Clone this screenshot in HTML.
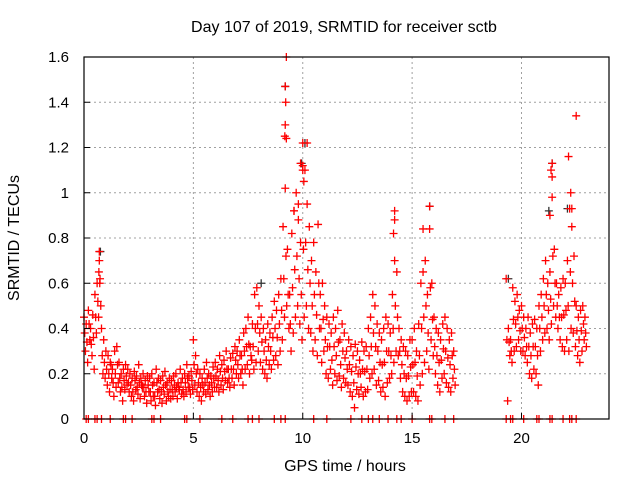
<!DOCTYPE html>
<html><head><meta charset="utf-8"><style>
html,body{margin:0;padding:0;background:#fff;}
svg{display:block;font-family:"Liberation Sans",sans-serif;}
</style></head><body>
<svg id="chart" width="640" height="480" viewBox="0 0 640 480" xmlns="http://www.w3.org/2000/svg">
<rect width="640" height="480" fill="#fff"/>
<text x="344" y="32" font-size="16" text-anchor="middle" fill="#000">Day 107 of 2019, SRMTID for receiver sctb</text>
<text transform="translate(19,238) rotate(-90)" font-size="16" text-anchor="middle" fill="#000">SRMTID / TECUs</text>
<text x="345" y="471" font-size="16" text-anchor="middle" fill="#000">GPS time / hours</text>
<g id="grid"></g><g id="marks"></g><g id="axes"></g>
</svg>
<script>
const hours=[0.0,0.1,0.2,0.3,0.4,0.5,0.6,0.7,0.8,0.9,1.0,1.1,1.2,1.3,1.4,1.5,1.6,1.7,1.8,1.9,2.0,2.1,2.2,2.3,2.4,2.5,2.6,2.7,2.8,2.9,3.0,3.1,3.2,3.3,3.4,3.5,3.6,3.7,3.8,3.9,4.0,4.1,4.2,4.3,4.4,4.5,4.6,4.7,4.8,4.9,5.0,5.1,5.2,5.3,5.4,5.5,5.6,5.7,5.8,5.9,6.0,6.1,6.2,6.3,6.4,6.5,6.6,6.7,6.8,6.9,7.0,7.1,7.2,7.3,7.4,7.5,7.6,7.7,7.8,7.9,8.0,8.1,8.2,8.3,8.4,8.5,8.6,8.7,8.8,8.9,9.0,9.1,9.2,9.3,9.4,9.5,9.6,9.7,9.8,9.9,10.0,10.1,10.2,10.3,10.4,10.5,10.6,10.7,10.8,10.9,11.0,11.1,11.2,11.3,11.4,11.5,11.6,11.7,11.8,11.9,12.0,12.1,12.2,12.3,12.4,12.5,12.6,12.7,12.8,12.9,13.0,13.1,13.2,13.3,13.4,13.5,13.6,13.7,13.8,13.9,14.0,14.1,14.2,14.3,14.4,14.5,14.6,14.7,14.8,14.9,15.0,15.1,15.2,15.3,15.4,15.5,15.6,15.7,15.8,15.9,16.0,16.1,16.2,16.3,16.4,16.5,16.6,16.7,16.8,16.9,19.3,19.4,19.5,19.6,19.7,19.8,19.9,20.0,20.1,20.2,20.3,20.4,20.5,20.6,20.7,20.8,20.9,21.0,21.1,21.2,21.3,21.4,21.5,21.6,21.7,21.8,21.9,22.0,22.1,22.2,22.3,22.4,22.5,22.6,22.7,22.8,22.9];
const srmtidHigh=[.45,.42,.48,.40,.46,.55,.60,.74,.40,.35,.30,.28,.25,.22,.30,.32,.25,.20,.22,.24,.22,.20,.18,.21,.19,.24,.18,.20,.17,.19,.18,.20,.16,.22,.18,.17,.19,.21,.16,.18,.17,.19,.20,.16,.22,.18,.20,.24,.19,.21,.35,.28,.22,.20,.18,.22,.25,.20,.19,.23,.25,.22,.28,.24,.26,.30,.22,.27,.29,.32,.30,.35,.28,.38,.40,.45,.32,.42,.55,.58,.50,.45,.40,.35,.42,.38,.45,.52,.48,.55,.62,.85,1.02,.75,.55,.82,.92,1.0,.88,.78,1.12,1.10,.95,.85,.70,.78,.65,.86,.55,.60,.50,.45,.42,.38,.45,.40,.48,.35,.42,.38,.30,.35,.32,.28,.33,.30,.26,.34,.30,.32,.40,.45,.55,.50,.42,.38,.35,.40,.45,.42,.38,.55,.70,.65,.40,.35,.32,.30,.28,.35,.35,.40,.30,.42,.60,.65,.70,.55,.84,.60,.45,.40,.38,.35,.42,.45,.40,.35,.38,.30,.62,.40,.35,.58,.52,.55,.48,.50,.45,.40,.45,.38,.42,.44,.40,.50,.55,.62,.70,.60,.65,.98,.75,.60,.55,.58,.62,.60,.70,.93,.85,.72,.50,.45,.48,.50,.45];
const srmtidMid=[.38,.34,.42,.33,.36,.45,.52,.62,.28,.25,.22,.20,.24,.16,.20,.24,.18,.14,.17,.19,.16,.15,.12,.17,.14,.16,.15,.14,.12,.15,.12,.15,.10,.16,.13,.12,.14,.15,.12,.13,.13,.15,.14,.14,.16,.13,.16,.18,.14,.17,.24,.20,.16,.14,.15,.16,.18,.15,.16,.18,.19,.17,.21,.18,.21,.22,.18,.22,.22,.26,.24,.28,.22,.30,.32,.33,.28,.32,.40,.42,.38,.34,.30,.26,.32,.30,.36,.40,.36,.42,.48,.62,.72,.55,.42,.58,.66,.72,.62,.55,.75,.78,.66,.60,.50,.55,.46,.60,.40,.44,.35,.32,.32,.26,.32,.28,.34,.24,.30,.27,.22,.24,.21,.16,.23,.20,.20,.22,.21,.22,.28,.32,.38,.32,.30,.25,.24,.25,.30,.30,.28,.40,.50,.45,.30,.24,.20,.18,.19,.23,.24,.25,.19,.28,.40,.45,.50,.38,.58,.44,.32,.28,.25,.26,.31,.30,.27,.24,.28,.22,.35,.34,.30,.44,.42,.45,.39,.40,.36,.32,.32,.28,.32,.32,.28,.40,.45,.50,.55,.48,.53,.72,.60,.50,.45,.45,.46,.48,.50,.65,.60,.52,.39,.35,.39,.42,.38];
const srmtidLow=[.30,.25,.35,.28,.22,.38,.45,.50,.20,.18,.15,.12,.18,.10,.14,.16,.12,.08,.13,.15,.12,.10,.08,.13,.11,.09,.14,.10,.07,.12,.08,.10,.06,.12,.09,.07,.11,.08,.10,.09,.10,.12,.09,.13,.11,.10,.12,.14,.11,.13,.15,.12,.10,.08,.12,.11,.13,.10,.12,.14,.14,.12,.15,.13,.17,.16,.14,.18,.15,.20,.18,.20,.15,.22,.24,.20,.26,.22,.25,.30,.25,.22,.20,.18,.24,.22,.26,.28,.24,.30,.35,.45,.50,.40,.30,.38,.45,.50,.42,.35,.45,.50,.40,.38,.30,.35,.28,.40,.25,.30,.20,.18,.22,.15,.20,.17,.19,.14,.18,.16,.15,.12,.10,.05,.13,.11,.14,.10,.12,.13,.18,.20,.22,.15,.17,.12,.14,.10,.16,.18,.20,.25,.30,.28,.18,.12,.10,.08,.10,.12,.12,.10,.08,.15,.20,.25,.30,.22,.35,.28,.20,.15,.12,.18,.20,.16,.14,.12,.18,.15,.08,.28,.25,.30,.32,.35,.30,.30,.28,.25,.20,.18,.22,.20,.15,.30,.35,.38,.40,.35,.42,.50,.45,.40,.35,.32,.30,.35,.30,.40,.38,.32,.28,.25,.30,.35,.32];
const peakHours=[9.25,9.2,9.22,9.2,9.18,9.25,9.9,10.0,10.2,10.0,10.05,9.6,9.8,14.2,14.2,14.15,15.8,15.5,21.4,21.35,21.4,21.3,22.15,22.25,22.3,22.5,0.7,0.68,0.72];
const peakValues=[1.6,1.47,1.4,1.3,1.25,1.24,1.13,1.22,1.22,1.1,1.05,0.92,0.95,0.92,0.88,0.82,0.94,0.84,1.13,1.1,1.07,0.9,1.16,1.0,0.93,1.34,0.7,0.65,0.6];
const blackHours=[9.2,10.1,21.4,22.1,9.95,15.8,0.75,8.1,19.4,21.25];
const blackValues=[1.47,1.22,1.13,0.93,1.13,0.94,0.74,0.6,0.62,0.92];
const zeroHours=[0.1,0.2,0.5,0.6,0.8,1.2,1.8,1.9,2.2,3.1,3.2,3.5,4.6,4.7,5.3,6.3,6.8,7.5,7.7,8.0,8.7,9.0,9.2,10.5,11.1,12.2,12.7,13.0,13.2,13.5,13.9,14.3,14.5,15.0,15.8,15.9,16.5,16.9,19.3,19.5,19.6,20.1,20.7,20.8,21.3,21.4,21.9,22.2,22.3,22.5];
const xTicks=[0,5,10,15,20];
const yTicks=[0,0.2,0.4,0.6,0.8,1,1.2,1.4,1.6];
const yTickLabels=["0","0.2","0.4","0.6","0.8","1","1.2","1.4","1.6"];

const L=84,R=609,T=57,B=419,XMAX=24,YMAX=1.6;
const xs=h=>L+(R-L)*h/XMAX;
const ys=v=>B-(B-T)*v/YMAX;
const NS="http://www.w3.org/2000/svg";
function mk(tag,attrs,parent){const e=document.createElementNS(NS,tag);for(const k in attrs)e.setAttribute(k,attrs[k]);parent.appendChild(e);return e;}
const grid=document.getElementById('grid'),marks=document.getElementById('marks'),axes=document.getElementById('axes');
xTicks.forEach(t=>{
  if(t>0){const g=mk('line',{x1:xs(t),x2:xs(t),y1:T,y2:B,stroke:'#a0a0a0','stroke-dasharray':'2,3'},grid);
  
  }
  const tk=mk('line',{x1:xs(t),x2:xs(t),y1:B,y2:B-6,stroke:'#000'},axes);
  
  
  const lb=mk('text',{x:xs(t),y:B+24,'font-size':15,'text-anchor':'middle',fill:'#000'},axes);lb.textContent=t;
  
  
});
yTicks.forEach((t,i)=>{
  if(t>0&&t<YMAX){const g=mk('line',{x1:L,x2:R,y1:ys(t),y2:ys(t),stroke:'#a0a0a0','stroke-dasharray':'2,3'},grid);
  
  }
  const tk=mk('line',{x1:L,x2:L+6,y1:ys(t),y2:ys(t),stroke:'#000'},axes);
  
  
  const lb=mk('text',{x:L-15,y:ys(t)+5,'font-size':15,'text-anchor':'end',fill:'#000'},axes);lb.textContent=yTickLabels[i];
  
  
});
const frame=mk('rect',{x:L,y:T,width:R-L,height:B-T,fill:'none',stroke:'#000','stroke-width':1.2},axes);


function plus(h,v,color,name){
  const x=xs(h),y=ys(v);
  const p=mk('path',{d:`M${x-4},${y}H${x+4}M${x},${y-4}V${y+4}`,stroke:color,'stroke-width':1.3,fill:'none'},marks);
  
  
}
blackHours.forEach((h,i)=>plus(h,blackValues[i],'#333','black-point'));
hours.forEach((h,i)=>{
  plus(h,srmtidHigh[i],'#f00','srmtid-point');
  plus(h+0.033,srmtidMid[i],'#f00','srmtid-point');
  plus(h+0.066,srmtidLow[i],'#f00','srmtid-point');
});
peakHours.forEach((h,i)=>plus(h,peakValues[i],'#f00','srmtid-peak-point'));
zeroHours.forEach(h=>plus(h,0,'#f00','zero-point'));
</script>
</body></html>
